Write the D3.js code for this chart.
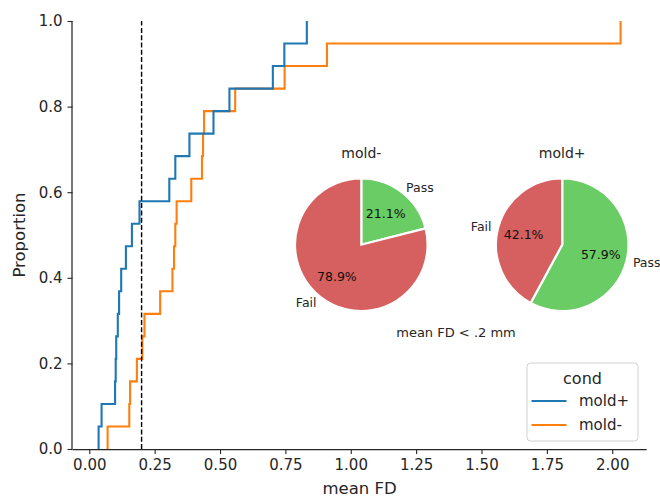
<!DOCTYPE html>
<html><head><meta charset="utf-8">
<script src="https://cdn.jsdelivr.net/npm/d3@7"></script>
<style>body{margin:0;background:#fff}svg{display:block;font-family:"DejaVu Sans",sans-serif}</style>
</head><body><svg id="c" width="660" height="498"></svg>
<script>
// ---- data ----
const seriesNames = ["mold+", "mold-"];
const moldPlus  = [0.0356,0.047,0.0986,0.101,0.103,0.109,0.114,0.122,0.140,0.163,0.192,0.306,0.329,0.383,0.475,0.536,0.702,0.746,0.832];
const moldMinus = [0.070,0.153,0.156,0.182,0.203,0.211,0.271,0.318,0.324,0.329,0.334,0.390,0.431,0.435,0.439,0.558,0.747,0.909,2.032];
const xTicks = [0,0.25,0.5,0.75,1,1.25,1.5,1.75,2];
const yTicks = [0,0.2,0.4,0.6,0.8,1];
const threshold = 0.2;
const pieTitles = ["mold-", "mold+"];
const pieLabels = ["Pass", "Fail"];
const passCounts = [4, 11];
const failCounts = [15, 8];
const footnote = "mean FD < .2 mm";

// ---- layout / style ----
const W = 660, H = 498;
const L = 72.5, R = 646.7, T = 21, B = 449;
const colors = {"mold+": "#1f77b4", "mold-": "#ff7f0e"};
const pieColors = {"Pass": "#6acc64", "Fail": "#d65f5f"};
const ink = "#262626";
const svg = d3.select("#c");

const all = moldPlus.concat(moldMinus);
const [mn, mx] = d3.extent(all);
const pad = 0.05 * (mx - mn);
const x = d3.scaleLinear().domain([mn - pad, mx + pad]).range([L, R]);
const y = d3.scaleLinear().domain([0, 1]).range([B, T]);

// ECDF lines
function ecdfPoints(vals) {
  const s = vals.slice().sort(d3.ascending);
  const n = s.length;
  const pts = [[s[0], 0]];
  s.forEach((v, i) => pts.push([v, (i + 1) / n]));
  return pts;
}
const line = d3.line().x(d => x(d[0])).y(d => y(d[1])).curve(d3.curveStepAfter);
const seriesData = {"mold+": moldPlus, "mold-": moldMinus};
["mold-", "mold+"].forEach(name => {
  svg.append("path").datum(ecdfPoints(seriesData[name]))
    .attr("d", line).attr("fill", "none")
    .attr("stroke", colors[name]).attr("stroke-width", 2.1)
    .attr("stroke-linejoin", "miter");
});

// threshold line
svg.append("line")
  .attr("x1", x(threshold)).attr("x2", x(threshold))
  .attr("y1", y(0)).attr("y2", y(1))
  .attr("stroke", "#000").attr("stroke-width", 1.4)
  .attr("stroke-dasharray", "5,2.3");

// axes
const xAxis = svg.append("g").attr("transform", `translate(0,${B})`)
  .call(d3.axisBottom(x).tickValues(xTicks).tickFormat(d3.format(".2f")).tickSizeOuter(0).tickSize(5).tickPadding(5));
const yAxis = svg.append("g").attr("transform", `translate(${L},0)`)
  .call(d3.axisLeft(y).tickValues(yTicks).tickFormat(d3.format(".1f")).tickSizeOuter(0).tickSize(5).tickPadding(5));
[xAxis, yAxis].forEach(g => {
  g.select(".domain").attr("stroke", ink).attr("stroke-width", 1.25);
  g.selectAll(".tick line").attr("stroke", ink).attr("stroke-width", 1.1);
  g.selectAll(".tick text").attr("fill", ink).style("font-size", "15px")
    .style("font-family", '"DejaVu Sans",sans-serif');
});
// extend x spine to the left spine
xAxis.select(".domain").attr("d", `M${L},0.5H${R}`);
yAxis.select(".domain").attr("d", `M-0.5,${B}V${T}`);

svg.append("text").attr("x", (L + R) / 2).attr("y", 494)
  .attr("text-anchor", "middle").attr("fill", ink).style("font-size", "16.5px").text("mean FD");
svg.append("text").attr("transform", `translate(25,${(T + B) / 2}) rotate(-90)`)
  .attr("text-anchor", "middle").attr("fill", ink).style("font-size", "16.5px").text("Proportion");

// pies
const pieCenters = [[361.3, 244.7], [562.2, 244.7]];
const r = 66.3;
const pie = d3.pie().sort(null).value(d => d.v);
const arc = d3.arc().innerRadius(0).outerRadius(r);
const lblArc = d3.arc().innerRadius(r * 1.1).outerRadius(r * 1.1);
const pctArc = d3.arc().innerRadius(r * 0.6).outerRadius(r * 0.6);
const fmt = d3.format(".1f");
pieTitles.forEach((t, i) => {
  const data = [{k: pieLabels[0], v: passCounts[i]}, {k: pieLabels[1], v: failCounts[i]}];
  const tot = passCounts[i] + failCounts[i];
  const g = svg.append("g").attr("transform", `translate(${pieCenters[i][0]},${pieCenters[i][1]})`);
  const arcs = pie(data);
  g.selectAll("path").data(arcs).join("path")
    .attr("d", arc).attr("fill", d => pieColors[d.data.k])
    .attr("stroke", "#fff").attr("stroke-width", 2.2).attr("stroke-linejoin", "miter");
  g.selectAll("text.lbl").data(arcs).join("text").attr("class", "lbl")
    .attr("x", d => lblArc.centroid(d)[0]).attr("y", d => lblArc.centroid(d)[1])
    .attr("dy", "0.36em")
    .attr("text-anchor", d => lblArc.centroid(d)[0] > 0 ? "start" : "end")
    .attr("fill", ink).style("font-size", "12.5px").text(d => d.data.k);
  g.selectAll("text.pct").data(arcs).join("text").attr("class", "pct")
    .attr("x", d => pctArc.centroid(d)[0]).attr("y", d => pctArc.centroid(d)[1])
    .attr("dy", "0.36em").attr("text-anchor", "middle")
    .attr("fill", "#111").style("font-size", "12.5px")
    .text(d => fmt(100 * d.data.v / tot) + "%");
  g.append("text").attr("x", 0).attr("y", -87).attr("text-anchor", "middle")
    .attr("fill", ink).style("font-size", "14px").text(t);
});
svg.append("text").attr("x", 456).attr("y", 337).attr("text-anchor", "middle")
  .attr("fill", ink).style("font-size", "13px").text(footnote);

// legend
const lg = svg.append("g");
lg.append("rect").attr("x", 527).attr("y", 363).attr("width", 111).attr("height", 78)
  .attr("rx", 3.5).attr("fill", "#fff").attr("fill-opacity", 0.8)
  .attr("stroke", "#d0d0d0").attr("stroke-width", 1);
lg.append("text").attr("x", 582.5).attr("y", 383.5).attr("text-anchor", "middle")
  .attr("fill", ink).style("font-size", "16px").text("cond");
seriesNames.forEach((n, i) => {
  const yy = 401 + i * 24;
  lg.append("line").attr("x1", 531.5).attr("x2", 566.5).attr("y1", yy).attr("y2", yy)
    .attr("stroke", colors[n]).attr("stroke-width", 2.1);
  lg.append("text").attr("x", 579).attr("y", yy).attr("dy", "0.36em")
    .attr("fill", ink).style("font-size", "15px").text(n);
});
</script></body></html>
